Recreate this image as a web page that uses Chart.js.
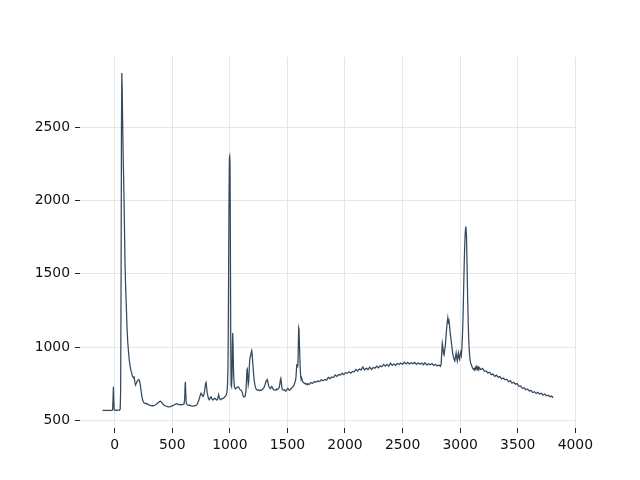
<!DOCTYPE html>
<html>
<head>
<meta charset="utf-8">
<script src="https://cdn.jsdelivr.net/npm/chart.js@4.4.0/dist/chart.umd.min.js"></script>
<style>
  body { margin: 0; background: #fff; }
</style>
</head>
<body>
<canvas id="myChart" width="640" height="480"></canvas>
<script>
'use strict';

// DANE - widmo (rows of 10 points, x and y rows match)
const wavenumber = [
  -105, -95, -85, -75, -65, -55, -45, -35, -25, -18,
  -14, -11, -8, -4, 0, 10, 20, 30, 40, 48,
  52, 56, 59, 62, 65, 69, 74, 78, 83, 89,
  95, 101, 107, 113, 120, 127, 134, 141, 148, 155,
  162, 169, 175, 181, 188, 195, 202, 210, 217, 224,
  231, 237, 243, 249, 257, 265, 272, 280, 288, 296,
  304, 312, 320, 328, 336, 344, 352, 360, 368, 375,
  382, 390, 396, 402, 408, 414, 421, 428, 436, 444,
  452, 460, 468, 476, 484, 492, 500, 508, 516, 524,
  532, 540, 548, 556, 564, 572, 580, 588, 596, 603,
  608, 612, 614, 617, 621, 626, 634, 642, 650, 658,
  666, 674, 682, 690, 698, 706, 713, 720, 726, 732,
  738, 744, 750, 756, 762, 768, 774, 780, 786, 790,
  794, 798, 803, 808, 814, 820, 826, 832, 838, 844,
  850, 856, 862, 868, 874, 880, 886, 892, 898, 903,
  908, 914, 920, 926, 932, 938, 944, 950, 956, 962,
  968, 974, 979, 984, 988, 992, 996, 999, 1002, 1005,
  1008, 1011, 1015, 1019, 1022, 1025, 1028, 1032, 1036, 1040,
  1045, 1050, 1056, 1062, 1068, 1074, 1080, 1086, 1092, 1098,
  1104, 1110, 1116, 1122, 1128, 1134, 1140, 1145, 1149, 1152,
  1156, 1160, 1164, 1168, 1172, 1176, 1181, 1186, 1190, 1194,
  1198, 1202, 1207, 1212, 1218, 1224, 1230, 1236, 1242, 1248,
  1254, 1260, 1266, 1272, 1278, 1284, 1290, 1296, 1302, 1308,
  1314, 1320, 1325, 1330, 1335, 1340, 1345, 1350, 1356, 1362,
  1368, 1374, 1380, 1386, 1392, 1398, 1404, 1410, 1416, 1422,
  1428, 1434, 1439, 1443, 1447, 1451, 1456, 1462, 1468, 1474,
  1480, 1486, 1492, 1498, 1504, 1510, 1516, 1522, 1528, 1534,
  1540, 1546, 1552, 1558, 1564, 1569, 1574, 1578, 1582, 1586,
  1589, 1592, 1595, 1598, 1601, 1604, 1607, 1611, 1615, 1619,
  1623, 1627, 1631, 1636, 1642, 1648, 1654, 1660, 1666, 1672,
  1678, 1690, 1705, 1720, 1735, 1750, 1765, 1780, 1795, 1810,
  1825, 1840, 1855, 1870, 1885, 1900, 1915, 1930, 1945, 1960,
  1975, 1990, 2005, 2020, 2035, 2050, 2065, 2080, 2095, 2110,
  2125, 2140, 2155, 2170, 2185, 2200, 2215, 2230, 2245, 2260,
  2275, 2290, 2305, 2320, 2335, 2350, 2365, 2380, 2395, 2410,
  2425, 2440, 2455, 2470, 2485, 2500, 2515, 2530, 2545, 2560,
  2575, 2590, 2605, 2620, 2635, 2650, 2665, 2680, 2695, 2710,
  2725, 2740, 2755, 2770, 2785, 2800, 2815, 2828, 2835, 2840,
  2845, 2850, 2855, 2860, 2865, 2870, 2876, 2882, 2888, 2893,
  2898, 2903, 2908, 2913, 2918, 2924, 2930, 2936, 2942, 2948,
  2954, 2960, 2965, 2970, 2975, 2980, 2985, 2990, 2995, 3000,
  3005, 3010, 3015, 3020, 3025, 3030, 3035, 3040, 3045, 3050,
  3055, 3060, 3065, 3070, 3075, 3080, 3085, 3090, 3096, 3102,
  3108, 3114, 3120, 3126, 3132, 3138, 3144, 3150, 3156, 3162,
  3165, 3180, 3195, 3210, 3225, 3240, 3255, 3270, 3285, 3300,
  3315, 3330, 3345, 3360, 3375, 3390, 3405, 3420, 3435, 3450,
  3465, 3480, 3495, 3510, 3525, 3540, 3555, 3570, 3585, 3600,
  3615, 3630, 3645, 3660, 3675, 3690, 3705, 3720, 3735, 3750,
  3765, 3780, 3795, 3808
];

const intensity = [
  566, 568, 567, 566, 568, 567, 566, 568, 567, 570,
  650, 728, 650, 572, 568, 569, 567, 569, 568, 575,
  700, 1500, 2500, 2870, 2780, 2550, 2300, 2150, 1930, 1600,
  1420, 1280, 1140, 1040, 970, 910, 870, 840, 822, 800,
  790, 795, 760, 740, 752, 765, 772, 778, 765, 735,
  690, 660, 638, 625, 618, 616, 612, 614, 609, 604,
  603, 601, 598, 600, 599, 601, 604, 608, 612, 618,
  622, 628, 630, 628, 622, 615, 609, 604, 600, 597,
  595, 593, 592, 591, 593, 596, 598, 601, 604, 608,
  611, 613, 610, 607, 606, 607, 605, 606, 608, 612,
  650, 745, 762, 700, 622, 608, 604, 602, 603, 600,
  598, 597, 597, 598, 600, 602, 605, 614, 628, 640,
  655, 672, 684, 678, 666, 662, 672, 695, 732, 752,
  758, 728, 690, 670, 652, 640, 645, 658, 660, 646,
  638, 640, 645, 650, 648, 642, 638, 640, 660, 675,
  655, 642, 640, 644, 650, 648, 650, 654, 660, 664,
  670, 688, 730, 850, 1300, 1900, 2290, 2300, 2250, 1700,
  1050, 740, 730, 800, 1000, 1095, 1020, 840, 770, 730,
  718, 714, 720, 724, 726, 727, 722, 712, 706, 704,
  698, 685, 665, 660, 660, 665, 700, 780, 845, 850,
  790, 742, 760, 840, 900, 930, 940, 965, 975, 950,
  905, 860, 810, 770, 740, 722, 712, 706, 704, 708,
  705, 702, 706, 704, 708, 712, 716, 722, 732, 748,
  764, 772, 778, 762, 742, 728, 722, 716, 720, 730,
  726, 716, 710, 706, 705, 708, 712, 708, 712, 716,
  722, 745, 776, 786, 760, 728, 712, 706, 704, 708,
  702, 698, 706, 712, 718, 710, 704, 706, 712, 718,
  722, 728, 732, 742, 756, 768, 790, 840, 880, 880,
  860, 900, 1020, 1130, 1120, 1030, 950, 860, 800, 780,
  790, 780, 768, 760, 756, 752, 748, 752, 746, 742,
  750, 744, 757, 752, 764, 760, 769, 763, 777, 770,
  779, 774, 792, 784, 795, 791, 809, 799, 812, 808,
  821, 811, 825, 820, 831, 821, 833, 830, 847, 836,
  849, 844, 863, 843, 855, 846, 863, 846, 860, 855,
  869, 858, 871, 865, 881, 869, 881, 869, 890, 874,
  884, 875, 889, 881, 890, 881, 896, 885, 895, 883,
  894, 886, 895, 881, 892, 882, 891, 879, 892, 877,
  886, 879, 887, 874, 882, 870, 877, 868, 885, 960,
  1025, 1000, 955, 945, 975, 1000, 1060, 1120, 1170, 1200,
  1170, 1180, 1145, 1100, 1070, 1030, 990, 955, 930, 915,
  905, 935, 960, 925, 905, 940, 960, 925, 915, 950,
  965, 945, 990, 1080, 1200, 1380, 1560, 1700, 1790, 1822,
  1760, 1560, 1340, 1170, 1040, 965, 920, 895, 880, 868,
  856, 848, 852, 842, 862, 850, 866, 848, 862, 846,
  860, 845, 854, 834, 837, 823, 828, 811, 815, 800,
  808, 794, 798, 782, 788, 776, 780, 763, 770, 754,
  759, 746, 750, 732, 734, 718, 722, 708, 713, 699,
  704, 689, 695, 683, 691, 679, 684, 671, 679, 667,
  671, 660, 665, 653
];

// ticki osi
const xTicks = [0, 500, 1000, 1500, 2000, 2500, 3000, 3500, 4000];
const yTicks = [500, 1000, 1500, 2000, 2500];

const points = wavenumber.map(function(w, i) {
  return { x: w, y: intensity[i] };
});

Chart.defaults.font.family = "'DejaVu Sans', sans-serif";
Chart.defaults.font.size = 13.9;
Chart.defaults.color = '#111';

var ctx = document.getElementById('myChart').getContext('2d');

var chart = new Chart(ctx, {
  type: 'line',
  data: {
    datasets: [{
      data: points,
      borderColor: '#34495e',
      borderWidth: 1.25,
      pointRadius: 0,
      // tiny tension -> normal path drawing (fast path merges points per pixel)
      tension: 0.000001,
      fill: false
    }]
  },
  options: {
    responsive: false,
    animation: false,
    devicePixelRatio: 1,
    layout: { padding: { top: 57, right: 64, left: 0, bottom: 0 } },
    plugins: { legend: { display: false }, tooltip: { enabled: false } },
    scales: {
      x: {
        type: 'linear',
        min: -301,
        max: 4006,
        border: { display: false },
        grid: { color: '#e6e6e6', tickColor: '#222', tickLength: 5, lineWidth: 1 },
        ticks: { padding: 4, maxRotation: 0, callback: function(v) { return String(v); } },
        afterBuildTicks: function(scale) {
          scale.ticks = xTicks.map(function(v) { return { value: v }; });
        },
        afterFit: function(scale) { scale.height = 52; }
      },
      y: {
        type: 'linear',
        min: 447,
        max: 2980,
        border: { display: false },
        grid: { color: '#e6e6e6', tickColor: '#222', tickLength: 5, lineWidth: 1 },
        ticks: { padding: 5, callback: function(v) { return String(v); } },
        afterBuildTicks: function(scale) {
          scale.ticks = yTicks.map(function(v) { return { value: v }; });
        },
        afterFit: function(scale) { scale.width = 80; }
      }
    }
  }
});
</script>
</body>
</html>
